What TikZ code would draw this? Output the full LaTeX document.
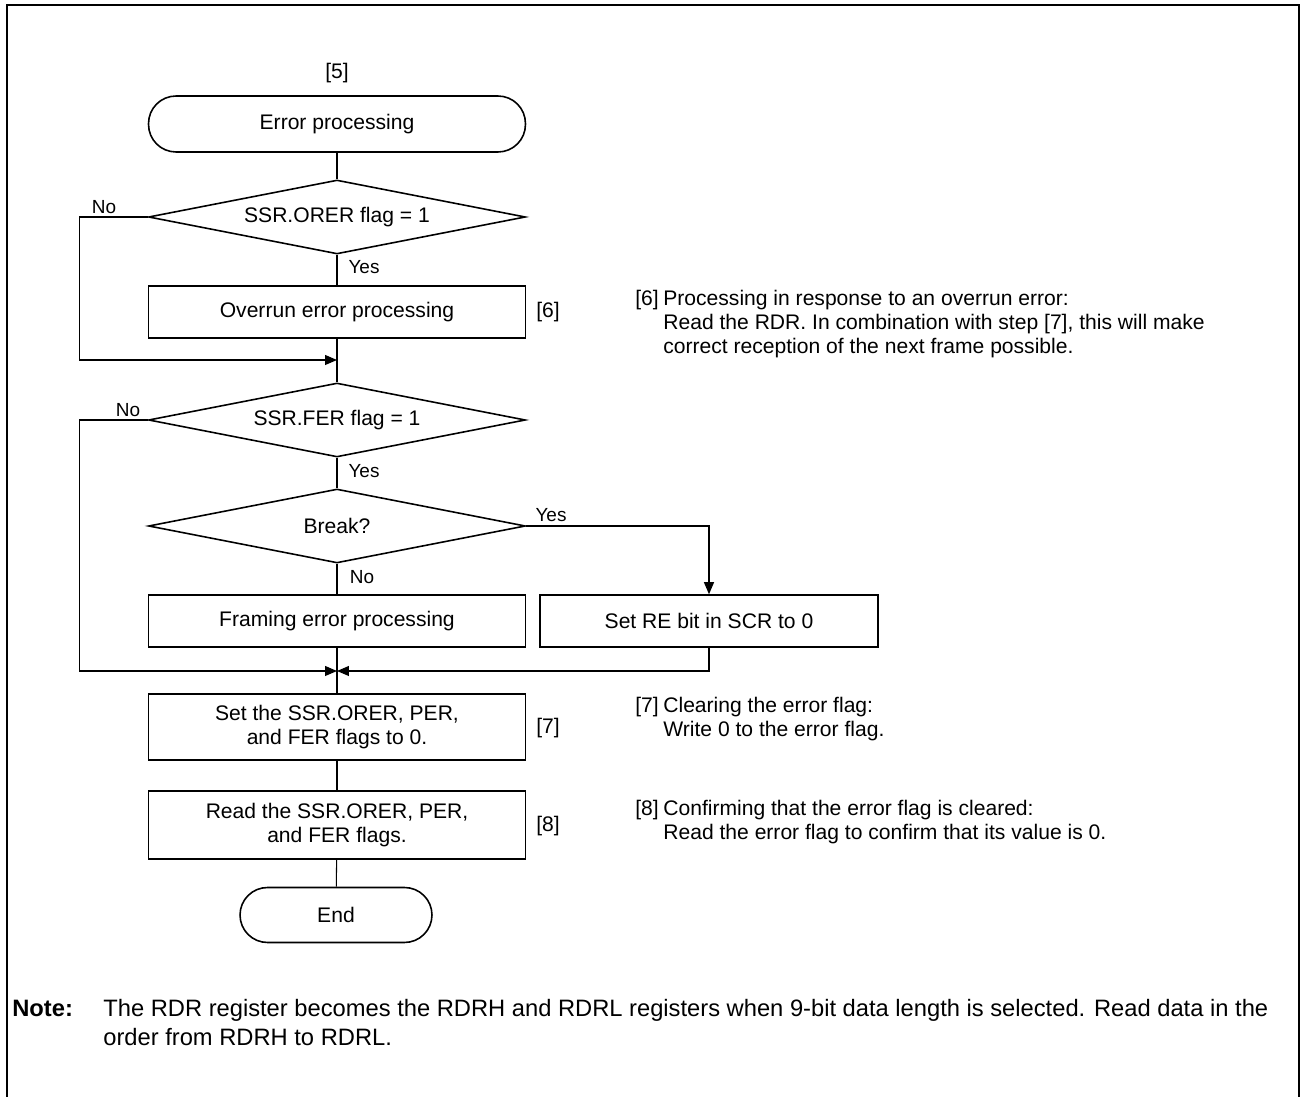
\documentclass[tikz,border=0pt]{standalone}
\usepackage{fontspec}
\setmainfont{Liberation Sans}
\usetikzlibrary{arrows.meta, positioning, shapes.geometric}

\begin{document}
\begin{tikzpicture}[
  x=0.02cm, y=-0.02cm,
  font=\fontsize{12}{13.8}\selectfont,
  flowbox/.style={draw, line width=0.9pt, minimum width=7.54cm, minimum height=1.04cm, align=center, inner sep=2pt},
  decision/.style={draw, diamond, aspect=5, line width=0.9pt, minimum width=7.54cm, minimum height=1.48cm, inner sep=0pt},
  terminal/.style={draw, rounded corners=0.55cm, line width=0.9pt, minimum width=7.54cm, minimum height=1.12cm},
  line/.style={line width=0.6pt},
  arrow/.style={line, -{Triangle[length=2.4mm, width=2mm]}},
  lbl/.style={font=\fontsize{10.8}{12}\selectfont, inner sep=0pt},
  side/.style={anchor=west, align=left, inner sep=0pt}
]
  \useasboundingbox (0,0) rectangle (1303,1097);
  \draw[line width=1.4pt] (7,1097) -- (7,5) -- (1299,5) -- (1299,1097);

  % main flow
  \node[terminal] (err) at (337,124) {Error processing};
  \node[decision] (ovrchk) at (337,217) {SSR.ORER flag = 1};
  \node[flowbox] (ovrproc) at (337,312) {Overrun error processing};
  \node[decision] (ferchk) at (337,420) {SSR.FER flag = 1};
  \node[decision] (brkchk) at (337,526) {Break?};
  \node[flowbox] (ferproc) at (337,621) {Framing error processing};
  \node[flowbox, minimum width=6.76cm] (reset) at (709,621) {Set RE bit in SCR to 0};
  \node[flowbox, minimum height=1.33cm] (clr) at (337,727) {Set the SSR.ORER, PER,\\and FER flags to 0.};
  \node[flowbox, minimum height=1.36cm] (rd) at (337,825) {Read the SSR.ORER, PER,\\and FER flags.};
  \node[terminal, minimum width=3.84cm, minimum height=1.1cm] (fin) at (336,915) {End};

  \coordinate (m1) at (337,360);
  \coordinate (m2) at (337,671);

  % connectors
  \draw[line] (err) -- (ovrchk);
  \draw[line] (ovrchk) -- (ovrproc);
  \draw[line] (ovrproc) -- (ferchk);
  \draw[arrow] (ovrchk.west) -- ++(-68,0) |- (m1);
  \draw[line] (ferchk) -- (brkchk);
  \draw[line] (brkchk) -- (ferproc);
  \draw[arrow] (brkchk.east) -| (reset.north);
  \draw[line] (ferproc) -- (clr);
  \draw[arrow] (ferchk.west) -- ++(-68,0) |- (m2);
  \draw[arrow] (reset.south) |- (m2);
  \draw[line] (clr) -- (rd);
  \draw[line] (rd) -- (fin);

  % branch labels
  \node[lbl] (no1) at (104,207) {No};
  \node[lbl] (yes1) at (364,267) {Yes};
  \node[lbl] (no2) at (128,410) {No};
  \node[lbl] (yes2) at (364,471) {Yes};
  \node[lbl] (yes3) at (551,515) {Yes};
  \node[lbl] (no3) at (362,577) {No};

  % step marks
  \node (s5) at (337,73) {[5]};
  \node[side] (s6) at (536,312) {[6]};
  \node[side] (s7) at (536,728) {[7]};
  \node[side] (s8) at (536,826) {[8]};

  % descriptions
  \node[side] (d6) at (635,300) {[6]};
  \node[side] (t6) at (663,324) {Processing in response to an overrun error:\\Read the RDR. In combination with step [7], this will make\\correct reception of the next frame possible.};
  \node[side] (d7) at (635,707) {[7]};
  \node[side] (t7) at (663,719) {Clearing the error flag:\\Write 0 to the error flag.};
  \node[side] (d8) at (635,810) {[8]};
  \node[side] (t8) at (663,822) {Confirming that the error flag is cleared:\\Read the error flag to confirm that its value is 0.};

  % note
  \node[side, font=\fontsize{13.5}{16.4}\selectfont\bfseries] (nt) at (12,1008) {Note:};
  \node[side, font=\fontsize{13.5}{16.4}\selectfont] (ntext) at (103,1022.5) {The RDR register becomes the RDRH and RDRL registers when 9-bit data length is selected. Read data in the\\order from RDRH to RDRL.};
\end{tikzpicture}
\end{document}
